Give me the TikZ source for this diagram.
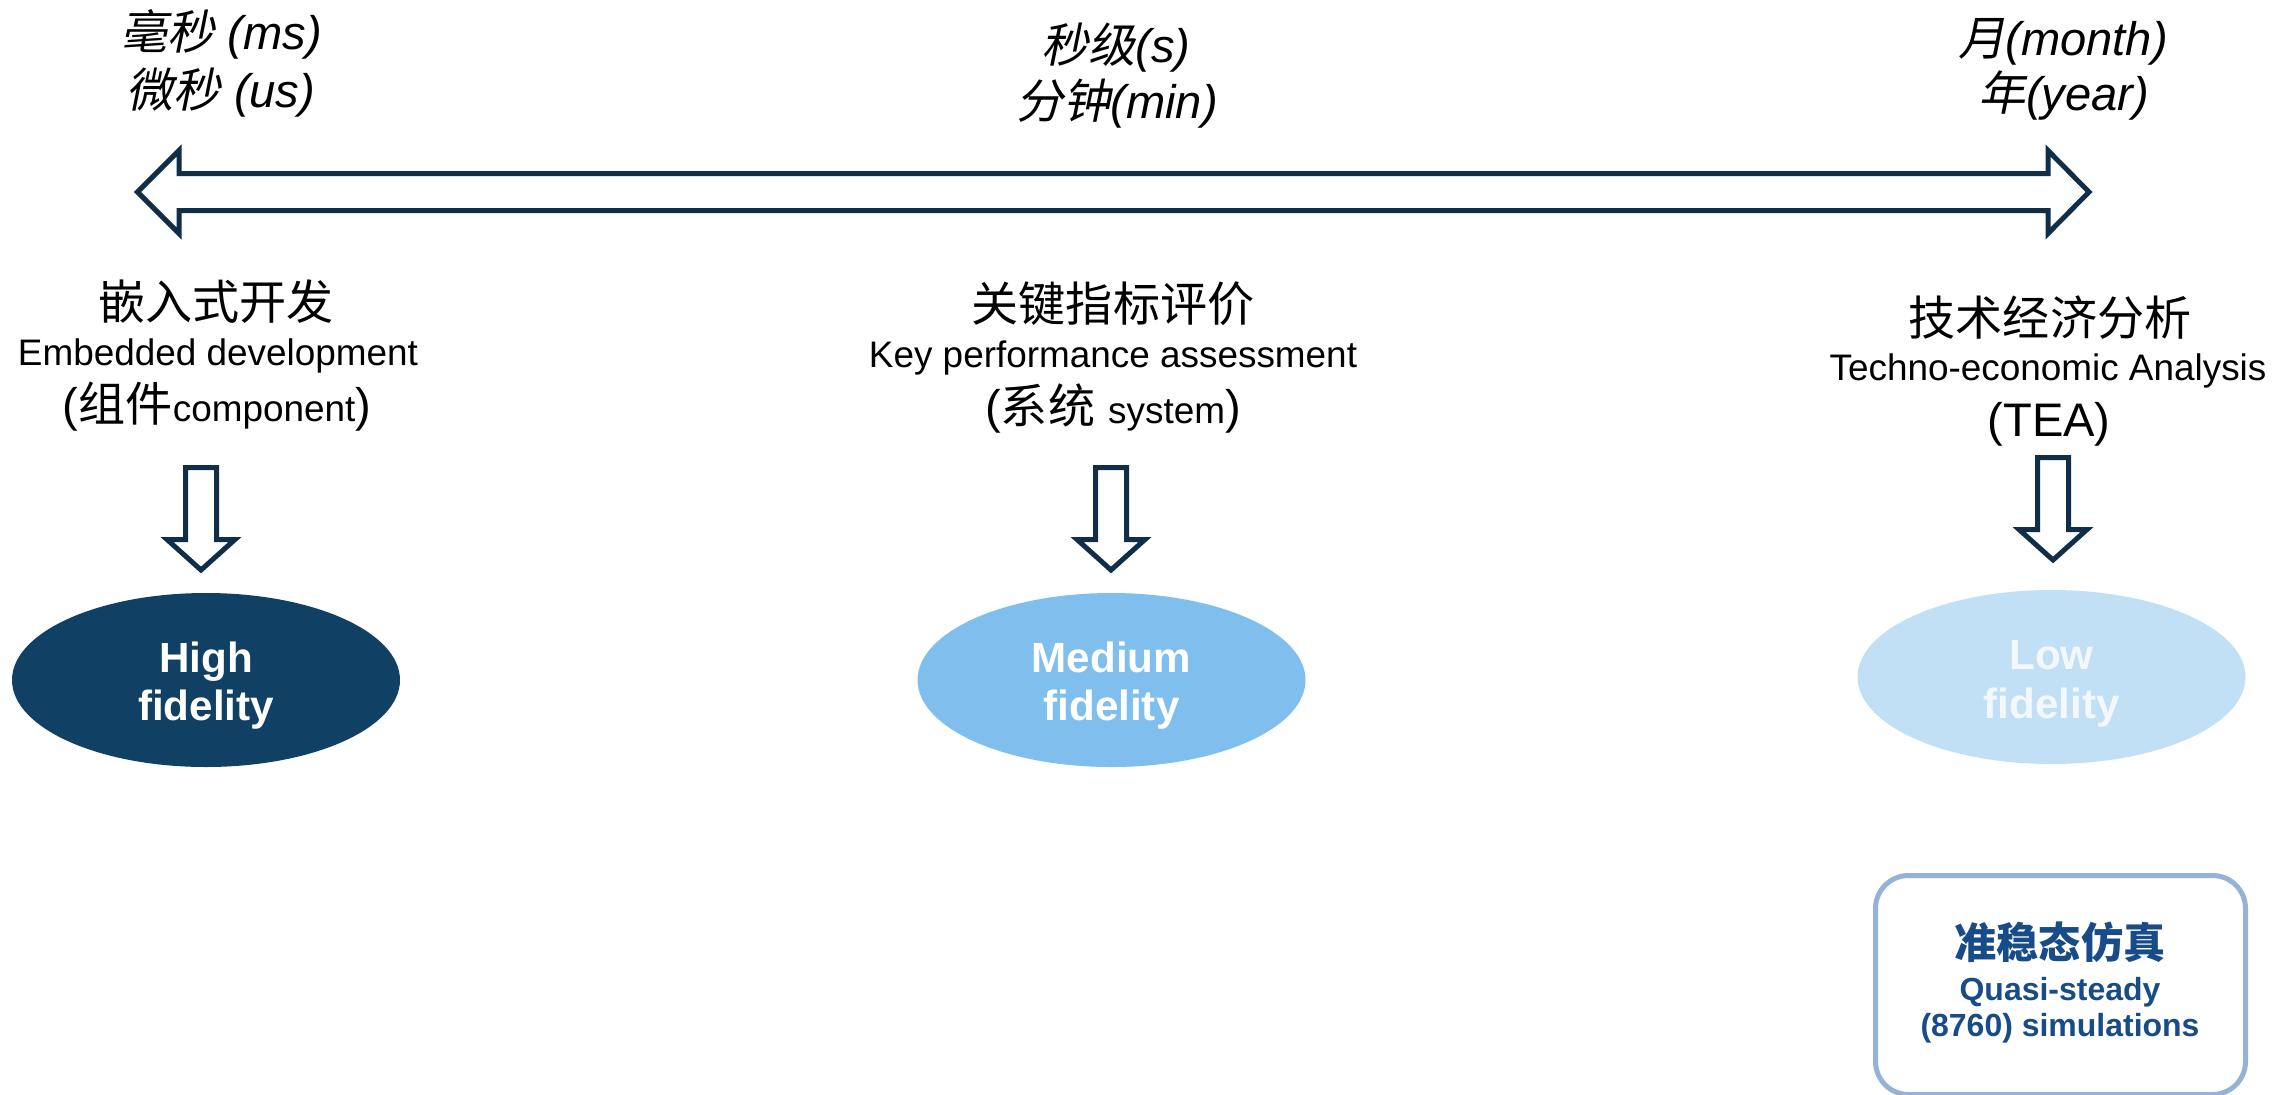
\documentclass[tikz,border=0pt]{standalone}
\usepackage{fontspec}
\setmainfont{Liberation Sans}
\newfontfamily\cjk{Noto Sans CJK SC}
\newfontfamily\cjkit[FakeSlant=0.2]{Noto Sans CJK SC}
\usepackage{tikz}
\usetikzlibrary{positioning}
\usetikzlibrary{shapes.geometric}

\definecolor{navyLine}{RGB}{16,46,72}
\definecolor{highFill}{RGB}{16,64,99}
\definecolor{medFill}{RGB}{128,191,237}
\definecolor{lowFill}{RGB}{193,224,246}
\definecolor{lowText}{RGB}{242,248,253}
\definecolor{boxLine}{RGB}{149,179,215}
\definecolor{boxText}{RGB}{24,76,136}

\tikzset{
  timelabel/.style={inner sep=0, anchor=base, font=\fontsize{13.4}{16}\selectfont\itshape},
  cnhead/.style={inner sep=0, anchor=base, font=\cjk\fontsize{13.4}{16}\selectfont},
  ensub/.style={inner sep=0, anchor=base, font=\fontsize{10.5}{12}\selectfont},
  scopeline/.style={inner sep=0, anchor=base, font=\fontsize{13.4}{16}\selectfont},
  blockline/.style={draw=navyLine, line width=0.05cm, line join=miter, fill=white},
  fidelity/.style={ellipse, draw=none, inner sep=0, minimum width=3.88cm, minimum height=1.74cm},
  fidtext/.style={inner sep=0, anchor=base, font=\bfseries\fontsize{12}{14}\selectfont},
  simline/.style={inner sep=0, anchor=base, text=boxText, font=\bfseries\fontsize{9.1}{11}\selectfont}
}

\begin{document}
\begin{tikzpicture}
\useasboundingbox (0,0) rectangle (22.75,-10.94);
\clip (0,0) rectangle (22.75,-10.94);

% time scale labels
\node[timelabel] (msLabel) at (2.21,-0.50) {{\cjkit 毫秒} (ms)};
\node[timelabel] (usLabel) at (2.21,-1.07) {{\cjkit 微秒} (us)};

\node[timelabel] (sLabel) at (11.16,-0.62) {{\cjkit 秒级}(s)};
\node[timelabel] (minLabel) at (11.17,-1.18) {{\cjkit 分钟}(min)};

\node[timelabel] (monthLabel) at (20.63,-0.55) {{\cjkit 月}(month)};
\node[timelabel] (yearLabel) at (20.64,-1.10) {{\cjkit 年}(year)};

% time axis
\draw[blockline] (1.375,-1.92) -- (1.79,-1.505) -- (1.79,-1.735) -- (20.48,-1.735)
  -- (20.48,-1.505) -- (20.89,-1.92) -- (20.48,-2.335) -- (20.48,-2.105)
  -- (1.79,-2.105) -- (1.79,-2.335) -- cycle;

% application levels
\node[cnhead] (embCn) at (2.16,-3.19) {嵌入式开发};
\node[ensub] (embEn) at (2.18,-3.65) {Embedded development};
\node[scopeline] (embScope) at (2.17,-4.21) {({\cjk 组件}{\fontsize{10.5}{12}\selectfont component})};

\node[cnhead] (kpaCn) at (11.13,-3.21) {关键指标评价};
\node[ensub] (kpaEn) at (11.13,-3.67) {Key performance assessment};
\node[scopeline] (kpaScope) at (11.13,-4.23) {({\cjk 系统} {\fontsize{10.5}{12}\selectfont system})};

\node[cnhead] (teaCn) at (20.50,-3.35) {技术经济分析};
\node[ensub] (teaEn) at (20.48,-3.80) {Techno-economic Analysis};
\node[scopeline] (teaAbbr) at (20.49,-4.36) {(TEA)};

% down arrows
\foreach \ax/\ay in {2.01/4.675, 11.11/4.675, 20.53/4.575}
  \draw[blockline] (\ax-0.155,-\ay) -- (\ax+0.155,-\ay) -- (\ax+0.155,-\ay-0.72)
    -- (\ax+0.34,-\ay-0.72) -- (\ax,-\ay-1.025) -- (\ax-0.34,-\ay-0.72)
    -- (\ax-0.155,-\ay-0.72) -- cycle;

% fidelity levels
\node[fidelity, fill=highFill] (highFid) at (2.06,-6.80) {};
\node[fidtext, text=white] (highTop) at (2.06,-6.72) {High};
\node[fidtext, text=white] (highBot) at (2.06,-7.20) {fidelity};

\node[fidelity, fill=medFill] (medFid) at (11.115,-6.80) {};
\node[fidtext, text=white] (medTop) at (11.115,-6.72) {Medium};
\node[fidtext, text=white] (medBot) at (11.115,-7.20) {fidelity};

\node[fidelity, fill=lowFill] (lowFid) at (20.515,-6.77) {};
\node[fidtext, text=lowText] (lowTop) at (20.515,-6.69) {Low};
\node[fidtext, text=lowText] (lowBot) at (20.515,-7.18) {fidelity};

% quasi-steady box
\node[draw=boxLine, line width=0.05cm, rounded corners=0.33cm, fill=white,
  minimum width=3.70cm, minimum height=2.19cm] (simBox) at (20.605,-9.85) {};
\node[inner sep=0, anchor=base, text=boxText, font=\cjk\bfseries\fontsize{12}{14}\selectfont]
  (simCn) at (20.60,-9.58) {准稳态仿真};
\node[simline] (simEn) at (20.60,-10.00) {Quasi-steady};
\node[simline] (simHours) at (20.60,-10.36) {(8760) simulations};

\end{tikzpicture}
\end{document}
